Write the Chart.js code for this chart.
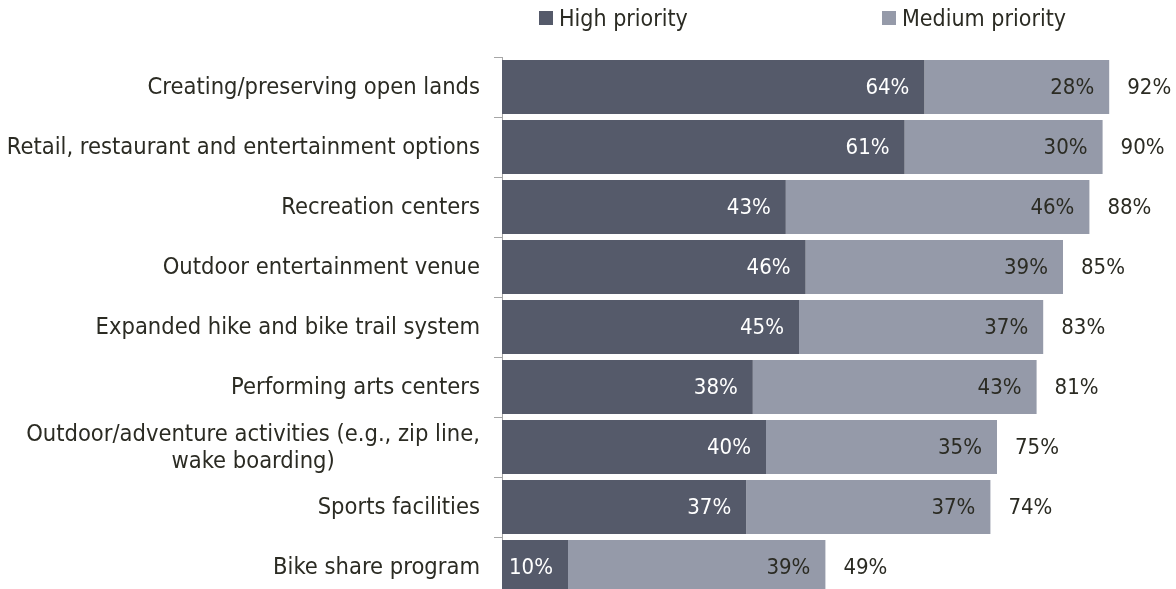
<!DOCTYPE html>
<html>
<head>
<meta charset="utf-8">
<script src="https://cdn.jsdelivr.net/npm/chart.js@4.4.1/dist/chart.umd.min.js"></script>
<style>
  body { margin: 0; background: #fff; overflow: hidden; }
  #wrap { position: relative; width: 1176px; height: 589px; overflow: hidden; }
  #chart { position: absolute; left: 0; top: 0; }
  .legend-item {
    position: absolute;
    top: 4px;
    font: 23px "DejaVu Sans Condensed", "DejaVu Sans", sans-serif;
    color: #2b2b23;
    white-space: nowrap;
    line-height: 28px;
  }
  .legend-item .box {
    display: inline-block;
    width: 14px;
    height: 14px;
    margin-right: 6px;
    vertical-align: 1px;
  }
</style>
</head>
<body>
<div id="wrap">
  <canvas id="chart" width="1176" height="597"></canvas>
  <div class="legend-item" style="left:539px"><span class="box" style="background:#555a6a"></span>High priority</div>
  <div class="legend-item" style="left:882px"><span class="box" style="background:#959aa9"></span>Medium priority</div>
</div>
<script>
const categories = [
  "Creating/preserving open lands",
  "Retail, restaurant and entertainment options",
  "Recreation centers",
  "Outdoor entertainment venue",
  "Expanded hike and bike trail system",
  "Performing arts centers",
  ["Outdoor/adventure activities (e.g., zip line,", "wake boarding)"],
  "Sports facilities",
  "Bike share program"
];
const highValues = [64, 61, 43, 46, 45, 38, 40, 37, 10];
const mediumValues = [28, 30, 46, 39, 37, 43, 35, 37, 39];
const totalValues = [92, 90, 88, 85, 83, 81, 75, 74, 49];

const FONT = '23.5px "DejaVu Sans Condensed", "DejaVu Sans", sans-serif';
const VALUE_FONT = '22px "DejaVu Sans Condensed", "DejaVu Sans", sans-serif';
const TEXT_COLOR = "#2b2b23";
const LINE_H = 27;

const labelPlugin = {
  id: "barLabels",
  afterDatasetsDraw(chart) {
    const ctx = chart.ctx;
    ctx.save();
    ctx.textBaseline = "middle";
    ctx.font = VALUE_FONT;

    // values inside each segment
    chart.data.datasets.forEach((ds, di) => {
      const meta = chart.getDatasetMeta(di);
      meta.data.forEach((bar, i) => {
        ctx.fillStyle = di === 0 ? "#ffffff" : TEXT_COLOR;
        ctx.textAlign = "right";
        ctx.fillText(ds.data[i] + "%", bar.x - 15, bar.y + 1);
      });
    });

    // totals past the end of the bar
    const last = chart.getDatasetMeta(chart.data.datasets.length - 1);
    last.data.forEach((bar, i) => {
      ctx.fillStyle = TEXT_COLOR;
      ctx.textAlign = "left";
      ctx.fillText(totalValues[i] + "%", bar.x + 18, bar.y + 1);
    });

    // category names, wrapped ones centred on their widest line
    ctx.font = FONT;
    const yScale = chart.scales.y;
    const right = chart.chartArea.left - 22;
    ctx.fillStyle = TEXT_COLOR;
    ctx.textAlign = "center";
    categories.forEach((label, i) => {
      const y = yScale.getPixelForValue(i);
      const lines = Array.isArray(label) ? label : [label];
      const widest = Math.max(...lines.map((l) => ctx.measureText(l).width));
      const centre = right - widest / 2;
      lines.forEach((line, j) => {
        ctx.fillText(line, centre, y + 1 + (j - (lines.length - 1) / 2) * LINE_H);
      });
    });

    ctx.restore();
  }
};

new Chart(document.getElementById("chart"), {
  type: "bar",
  data: {
    labels: categories,
    datasets: [
      {
        label: "High priority",
        data: highValues,
        backgroundColor: "#555a6a",
        barPercentage: 0.9,
        categoryPercentage: 1
      },
      {
        label: "Medium priority",
        data: mediumValues,
        backgroundColor: "#959aa9",
        barPercentage: 0.9,
        categoryPercentage: 1
      }
    ]
  },
  options: {
    indexAxis: "y",
    responsive: false,
    animation: false,
    layout: { padding: { top: 57, right: 14, bottom: 0, left: 0 } },
    plugins: {
      legend: { display: false },
      tooltip: { enabled: false }
    },
    scales: {
      x: { stacked: true, min: 0, max: 100, display: false },
      y: {
        stacked: true,
        grid: {
          display: true,
          drawOnChartArea: false,
          drawTicks: true,
          tickLength: 8,
          color: "#a6a6a6",
          offset: true
        },
        border: { display: true, color: "#a6a6a6" },
        ticks: { display: false },
        afterFit(scale) {
          scale.width = 502;
        }
      }
    }
  },
  plugins: [labelPlugin]
});
</script>
</body>
</html>
